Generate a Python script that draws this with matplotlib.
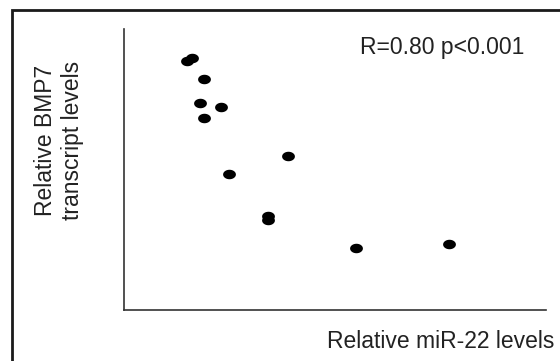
# Scatter of BMP7 transcript vs miR-22 levels

import numpy as np
import matplotlib
matplotlib.use('Agg')
import matplotlib.pyplot as plt
from matplotlib.patches import Rectangle

plt.rcParams['font.family'] = ['Liberation Sans', 'DejaVu Sans']

# data (arbitrary relative units)
mir22 = [1.49, 1.61, 1.90, 1.80, 2.30, 1.90, 3.89, 2.50, 3.41, 3.41, 5.49, 7.70]
bmp7 = [8.86, 8.97, 8.22, 7.36, 7.22, 6.84, 5.48, 4.85, 3.36, 3.22, 2.22, 2.36]
stat_text = 'R=0.80 p<0.001'
xlabel = 'Relative miR-22 levels'
ylabel = 'Relative BMP7\ntranscript levels'

txt_col = '#222222'

fig = plt.figure(figsize=(5.6, 3.61), dpi=100)
ax = fig.add_axes([0.2214, 0.1413, 0.7536, 0.7784])

# horizontal ellipse marker
t = np.linspace(0, 2*np.pi, 60)
ell = np.column_stack([1.35*np.cos(t), np.sin(t)])
ax.scatter(mir22, bmp7, marker=ell, s=85, color='black', linewidths=0)

ax.set_xlim(0, 10)
ax.set_ylim(0, 10)
ax.set_xticks([])
ax.set_yticks([])
for side in ['top', 'right']:
    ax.spines[side].set_visible(False)
for side in ['left', 'bottom']:
    ax.spines[side].set_linewidth(1.2)
    ax.spines[side].set_color('#333333')

# labels
fig.text(554/560, 1 - 348/361, xlabel, ha='right', va='baseline', fontsize=16.5, color=txt_col)
fig.text(360/560, 1 - 54/361, stat_text, ha='left', va='baseline', fontsize=16.5, color=txt_col)
fig.text(59/560, 1 - 140/361, ylabel, rotation=90, ha='center', va='center',
         multialignment='center', fontsize=16.5, color=txt_col, linespacing=1.25)

# outer frame, cut by the right and bottom edges
frame = Rectangle((12/560, -0.1), 1.2, 1 - 10/361 + 0.1, transform=fig.transFigure,
                  fill=False, edgecolor='#1a1a1a', linewidth=2, clip_on=False)
fig.patches.append(frame)

fig.savefig('out.png', dpi=100)
